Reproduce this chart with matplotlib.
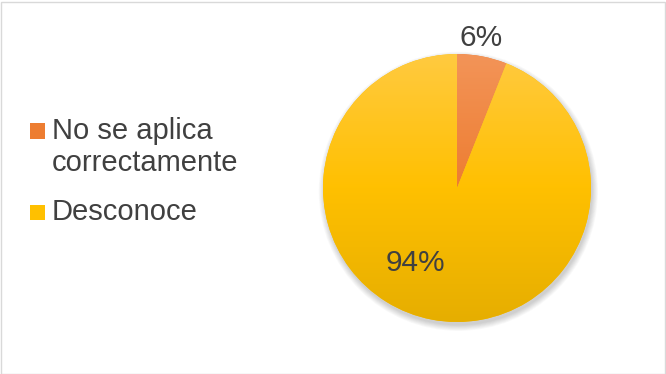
import numpy as np
import matplotlib.pyplot as plt
from matplotlib.colors import LinearSegmentedColormap
from matplotlib.patches import Rectangle, Circle

labels = ["No se aplica\ncorrectamente", "Desconoce"]
values = [6, 94]
tops = ["#F39458", "#FFCA40"]
mids = ["#ED7D31", "#FFC000"]
bottoms = ["#E26B22", "#E6AE00"]

plt.rcParams['font.family'] = ['Liberation Sans', 'DejaVu Sans']
text_color = "#404040"

fig = plt.figure(figsize=(6.66, 3.74), dpi=100)
fig.patch.set_facecolor("white")

# light grey frame around the chart area
fig.add_artist(Rectangle((0.5 / 666, 0.5 / 374), 1 - 2 / 666, 1 - 2 / 374,
                         transform=fig.transFigure, fill=False,
                         edgecolor="#D9D9D9", linewidth=1))

# pie centre (457, 188) px, radius 134 px; axes padded so nothing is clipped
r_px, pad = 134, 1.25
side = 2 * r_px * pad
ax = fig.add_axes([(457 - side / 2) / 666, (374 - 188 - side / 2) / 374,
                   side / 666, side / 374])
ax.axis("off")

# soft shadow below the pie
for i in range(8):
    ax.add_patch(Circle((0.01, -0.025), 1.0 + 0.006 * i, color="black",
                        alpha=0.025, zorder=0, lw=0))

wedges, _ = ax.pie(values, startangle=90, counterclock=False, radius=1,
                   colors=mids, wedgeprops=dict(linewidth=0))

grad = np.linspace(1, 0, 256).reshape(-1, 1)
for w, t, m, b in zip(wedges, tops, mids, bottoms):
    cmap = LinearSegmentedColormap.from_list("g", [b, m, t])
    im = ax.imshow(grad, cmap=cmap, extent=[-1, 1, -1, 1], aspect="auto",
                   origin="upper", zorder=2, interpolation="bilinear")
    im.set_clip_path(w)

ax.set_xlim(-pad, pad)
ax.set_ylim(-pad, pad)
ax.set_aspect("equal")

# percentage labels
ax.text(0.18, 1.12, f"{values[0]}%", ha="center", va="center",
        fontsize=21.5, color=text_color)
ax.text(-0.31, -0.56, f"{values[1]}%", ha="center", va="center",
        fontsize=21.5, color=text_color)

# legend drawn by hand
sq = 15
legend_pos = [(30, 131), (30, 212)]
for (x, y), lab, c in zip(legend_pos, labels, mids):
    fig.add_artist(Rectangle((x / 666, (374 - y - sq / 2) / 374), sq / 666, sq / 374,
                             transform=fig.transFigure, color=c, lw=0))
    lines = lab.split("\n")
    for k, line in enumerate(lines):
        fig.text(52 / 666, (374 - y - 32 * k) / 374, line, ha="left",
                 va="center", fontsize=21, color=text_color)

fig.savefig("out.png", dpi=100)
